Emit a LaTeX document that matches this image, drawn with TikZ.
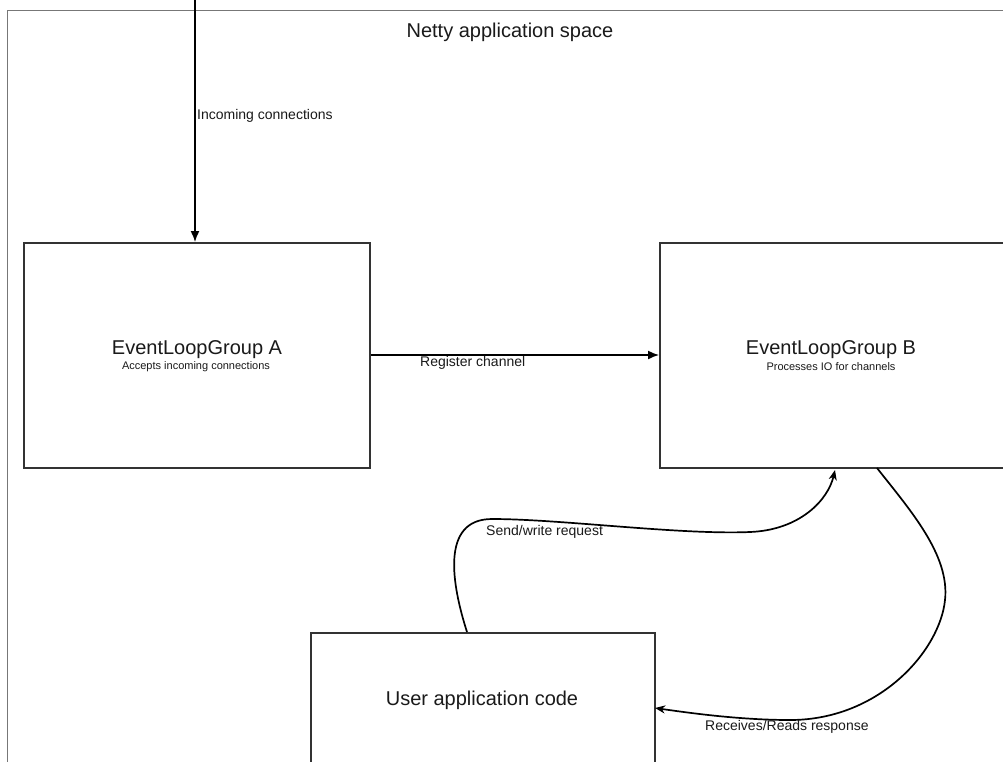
\documentclass[tikz,border=0pt]{standalone}
\usepackage{fontspec}
\setmainfont{Liberation Sans}
\usetikzlibrary{arrows.meta}
\definecolor{boxline}{HTML}{333333}
\definecolor{frameline}{HTML}{777777}
\definecolor{txt}{HTML}{1A1A1A}
\tikzset{
  box/.style={draw=boxline, line width=2pt, fill=none, inner sep=0pt},
  bigtext/.style={font=\fontsize{20}{22}\selectfont, text=txt, inner sep=0pt},
  subtext/.style={font=\fontsize{11}{12}\selectfont, text=txt, inner sep=0pt},
  lbl/.style={font=\fontsize{14}{15}\selectfont, text=txt, inner sep=0pt, anchor=west},
  straightarrow/.style={draw=black, line width=1.5pt, -{Latex[length=11pt,width=9pt]}},
  curvearrow/.style={draw=black, line width=1.7pt, -{Stealth[length=10pt,width=8pt,inset=3pt]}},
}
\begin{document}
\begin{tikzpicture}[x=1pt,y=-1pt]
\useasboundingbox (0,0) rectangle (1003,761);
\fill[white] (0,0) rectangle (1003,761);
\clip (0,0) rectangle (1003,761);
% application space frame
\node[draw=frameline, line width=1pt, minimum width=1100pt, minimum height=900pt, inner sep=0pt, anchor=north west] (space) at (7,10) {};
\node[bigtext] (title) at (510,32) {Netty application space};
% boxes
\node[box, minimum width=346pt, minimum height=225pt] (A) at (197,355.5) {};
\node[box, minimum width=350pt, minimum height=225pt, anchor=west] (B) at (659,355.5) {};
\node[box, minimum width=344pt, minimum height=140pt, anchor=north west] (C) at (310,632) {};
% box texts
\node[bigtext] (Atitle) at (197,350) {EventLoopGroup A};
\node[subtext] (Asub) at (196,367) {Accepts incoming connections};
\node[bigtext] (Btitle) at (831,350) {EventLoopGroup B};
\node[subtext] (Bsub) at (831,367) {Processes IO for channels};
\node[bigtext] (Ctitle) at (482,700) {User application code};
% incoming connections
\coordinate (inc) at (195,-5);
\draw[straightarrow] (inc) -- (A.north -| inc);
\node[lbl] (inclbl) at (197,116) {Incoming connections};
% register channel
\draw[straightarrow] (A.east |- 0,355) -- (B.west |- 0,355);
\node[lbl] (reglbl) at (420,363) {Register channel};
% send/write request
\coordinate (s0) at (467,632);
\coordinate (s3) at (835,470);
\draw[curvearrow] (s0) .. controls (452,585) and (440,519) .. (492,519)
  .. controls (560,519) and (680,535) .. (750,532)
  .. controls (800,530) and (828,500) .. (s3);
\node[lbl] (sendlbl) at (486,532) {Send/write request};
% receives/reads response
\coordinate (r0) at (877,468);
\coordinate (r3) at (655,708);
\draw[curvearrow] (r0) .. controls (910,510) and (950,555) .. (945,600)
  .. controls (940,650) and (880,720) .. (790,720)
  .. controls (740,720) and (690,713) .. (r3);
\node[lbl] (recvlbl) at (705,727) {Receives/Reads response};
\end{tikzpicture}
\end{document}
